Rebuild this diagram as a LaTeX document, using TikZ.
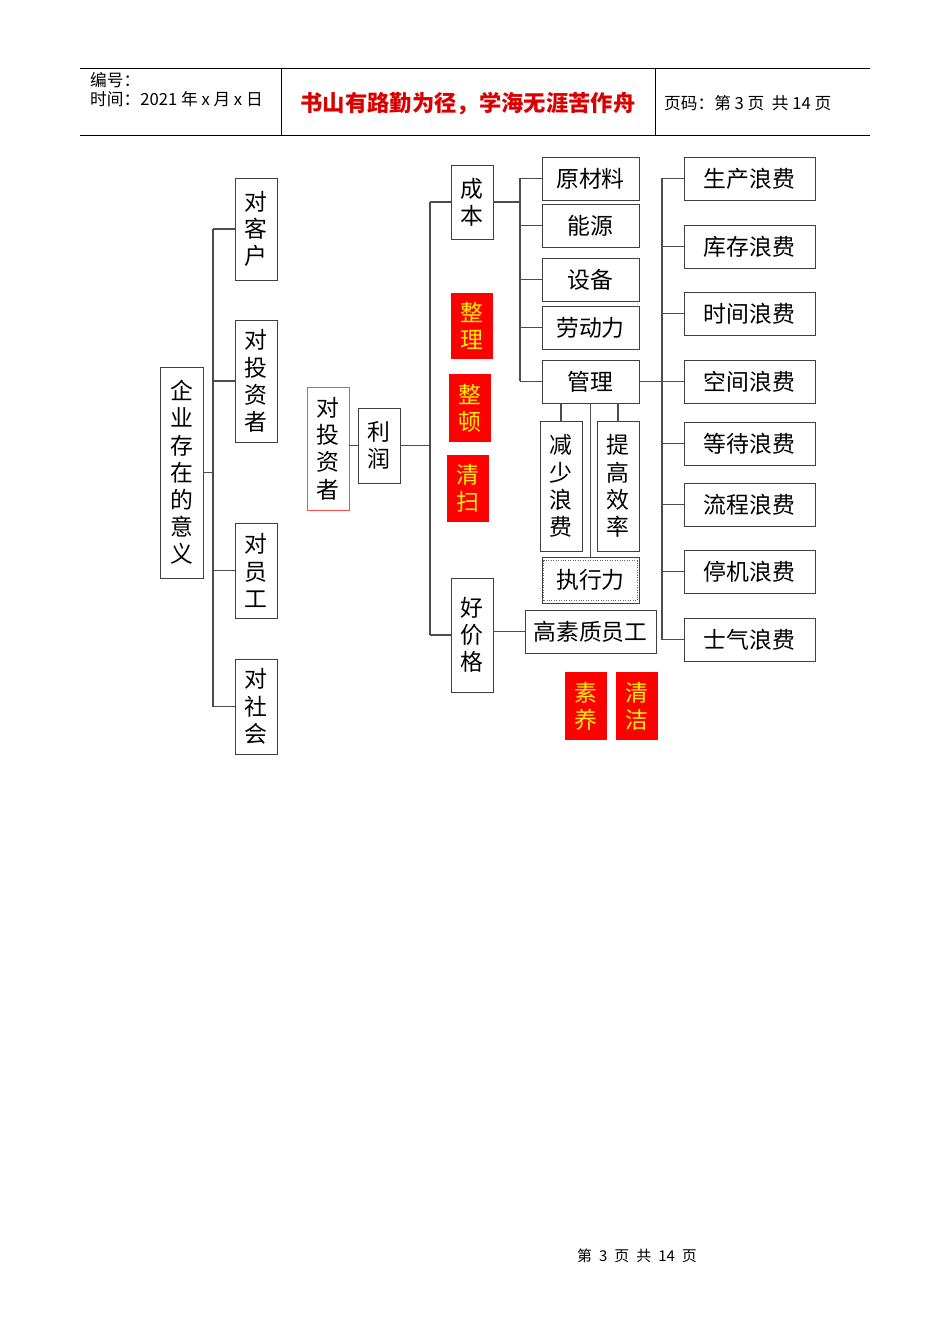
\documentclass[tikz,border=0pt]{standalone}
\usepackage{fontspec}
\setmainfont{Noto Sans CJK SC}
\tikzset{
  pw/.style={minimum width=#1*0.02cm},
  ph/.style={minimum height=#1*0.02cm},
  box/.style={draw=black!75, inner sep=0pt, align=center, font=\fontsize{13}{15.5}\selectfont},
  redbox/.style={fill=red, inner sep=0pt, align=center, text=yellow, font=\fontsize{13}{15.5}\selectfont},
  link/.style={draw=black!70, line width=0.6pt}
}
\begin{document}
\begin{tikzpicture}[x=0.02cm, y=-0.02cm]
\useasboundingbox (0,0) rectangle (950,1344);
% header
\draw[line width=0.5pt] (80,68) -- (870,68);
\draw[line width=0.5pt] (80,135) -- (870,135);
\draw[line width=0.5pt] (281,68) -- (281,135);
\draw[line width=0.5pt] (655,68) -- (655,135);
\node[anchor=west, font=\fontsize{9.5}{11}\selectfont] (bh) at (84,80) {编号：};
\node[anchor=west, font=\fontsize{9.5}{11}\selectfont] (sj) at (84,99) {时间：2021 年 x 月 x 日};
\node[font=\bfseries\fontsize{12.7}{15}\selectfont, text=red!85!black] (title) at (468,104) {书山有路勤为径，学海无涯苦作舟};
\node[anchor=west, font=\fontsize{9.5}{11}\selectfont] (ym) at (658,103) {页码：第 3 页\ \ 共 14 页};
\node[font=\fontsize{8.5}{10}\selectfont] (foot) at (637,1256) {第\hspace{4pt}3\hspace{4pt}页\hspace{4pt}共\hspace{4pt}14\hspace{4pt}页};
% left part
\node[box, pw=43, ph=211] (yiyi) at (181.5,472.5) {企\\业\\存\\在\\的\\意\\义};
\node[box, pw=42, ph=102] (kehu) at (256,229) {对\\客\\户};
\node[box, pw=42, ph=122] (tzz) at (256,381) {对\\投\\资\\者};
\node[box, pw=42, ph=95] (yg) at (256,570.5) {对\\员\\工};
\node[box, pw=42, ph=95] (sh) at (256,706.5) {对\\社\\会};
\coordinate (busA) at (213,0);
\draw[link] (yiyi.east) -- (yiyi.east -| busA);
\draw[link] (kehu.west -| busA) -- (sh.west -| busA);
\foreach \n in {kehu,tzz,yg,sh} \draw[link] (\n.west) -- (\n.west -| busA);
% profit
\node[box, draw=red!70, pw=42, ph=123] (tzz2) at (328,448.5) {对\\投\\资\\者};
\node[box, pw=42, ph=75] (lr) at (379,445.5) {利\\润};
\draw[link] (tzz2.east |- lr) -- (lr.west);
\coordinate (busB) at (430,0);
\node[box, pw=42, ph=74] (cb) at (472,202) {成\\本};
\node[box, pw=42, ph=114] (hjg) at (472,635) {好\\价\\格};
\draw[link] (lr.east) -- (lr.east -| busB);
\draw[link] (cb.west -| busB) -- (hjg.west -| busB);
\draw[link] (cb.west) -- (cb.west -| busB);
\draw[link] (hjg.west) -- (hjg.west -| busB);
% red labels
\node[redbox, pw=42, ph=66] (zl) at (472,326) {整\\理};
\node[redbox, pw=42, ph=68] (zd) at (470,408) {整\\顿};
\node[redbox, pw=42, ph=67] (qs) at (468,488.5) {清\\扫};
\node[redbox, pw=42, ph=68] (sy) at (586,706) {素\\养};
\node[redbox, pw=42, ph=68] (qj) at (637,706) {清\\洁};
% cost items
\coordinate (busC) at (520,0);
\node[box, pw=97, ph=43] (ycl) at (590.5,178.5) {原材料};
\node[box, pw=97, ph=43] (ny) at (590.5,225.5) {能源};
\node[box, pw=97, ph=43] (sb) at (590.5,279.5) {设备};
\node[box, pw=97, ph=43] (ldl) at (590.5,327.5) {劳动力};
\node[box, pw=97, ph=43] (gl) at (590.5,381.5) {管理};
\draw[link] (cb.east) -- (cb.east -| busC);
\draw[link] (ycl.west -| busC) -- (gl.west -| busC);
\foreach \n in {ycl,ny,sb,ldl,gl} \draw[link] (\n.west) -- (\n.west -| busC);
% management
\node[box, pw=42, ph=130] (jslf) at (561,486) {减\\少\\浪\\费};
\node[box, pw=42, ph=130] (tgxl) at (618,486) {提\\高\\效\\率};
\node[box, pw=97, ph=46] (zxl) at (590.5,580) {执行力};
\draw[densely dotted, black!60] ([shift={(2,-3)}]zxl.south west) rectangle ([shift={(-2,4)}]zxl.north east);
\draw[link] (gl.south -| jslf) -- (jslf.north);
\draw[link] (gl.south -| tgxl) -- (tgxl.north);
\draw[link] (gl.south) -- (zxl.north);
\node[box, pw=131, ph=43] (gszyg) at (590.5,631.5) {高素质员工};
\draw[link] (hjg.east |- gszyg) -- (gszyg.west);
% wastes
\coordinate (busD) at (662,0);
\node[box, pw=131, ph=43] (w1) at (749.5,178.5) {生产浪费};
\node[box, pw=131, ph=43] (w2) at (749.5,246.5) {库存浪费};
\node[box, pw=131, ph=43] (w3) at (749.5,313.5) {时间浪费};
\node[box, pw=131, ph=43] (w4) at (749.5,381.5) {空间浪费};
\node[box, pw=131, ph=43] (w5) at (749.5,443.5) {等待浪费};
\node[box, pw=131, ph=43] (w6) at (749.5,504.5) {流程浪费};
\node[box, pw=131, ph=43] (w7) at (749.5,571.5) {停机浪费};
\node[box, pw=131, ph=43] (w8) at (749.5,639.5) {士气浪费};
\draw[link] (gl.east) -- (gl.east -| busD);
\draw[link] (w1.west -| busD) -- (w8.west -| busD);
\foreach \n in {w1,w2,w3,w4,w5,w6,w7,w8} \draw[link] (\n.west) -- (\n.west -| busD);
\end{tikzpicture}
\end{document}
